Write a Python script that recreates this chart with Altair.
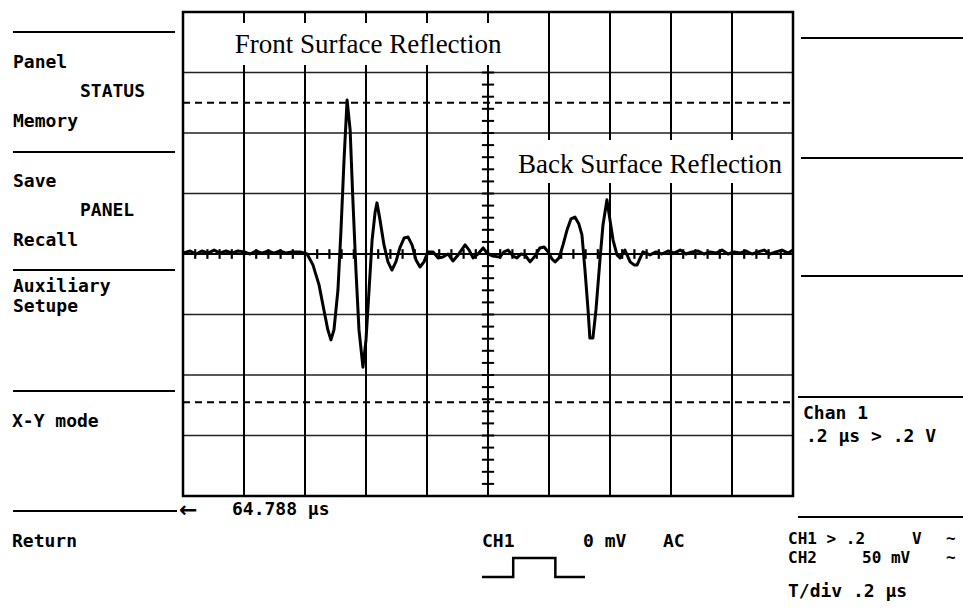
import altair as alt
import pandas as pd

# ---------------- data ----------------
# trace: time after 64.788 us (in us) and channel-1 voltage (V); 0.2 us/div, 0.2 V/div
TIME_US = [0, .023, .043, .062, .082, .102, .121, .141, .161, .180, .200, .220, .239, .259, .279,
           .298, .318, .338, .357, .384, .407,
           .426, .446, .462, .475, .485, .495, .508, .518, .528, .538, .548, .557, .567, .577, .590,
           .600, .610, .620, .630, .636, .646, .659, .672, .685, .698, .711, .725, .738, .751, .764,
           .777, .790, .803, .820, .836, .852, .869, .885, .902, .925, .938, .951, .967, .984, .997,
           1.016, 1.039, 1.052, 1.066, 1.082, 1.095, 1.108, 1.121, 1.138, 1.154, 1.170, 1.184, 1.197,
           1.210, 1.220, 1.233, 1.246, 1.259, 1.272, 1.285, 1.298, 1.308, 1.318, 1.328, 1.334, 1.344,
           1.354, 1.367, 1.377, 1.390, 1.400, 1.410, 1.423, 1.433, 1.449, 1.466, 1.479, 1.489, 1.508,
           1.531, 1.551, 1.570, 1.590, 1.610, 1.630, 1.649, 1.669, 1.689, 1.708, 1.728, 1.748, 1.767,
           1.787, 1.807, 1.826, 1.846, 1.866, 1.885, 1.905, 1.925, 1.944, 1.964, 1.984, 2.0]
VOLT_V = [.003, .010, 0, .010, .003, .013, .003, .010, .003, .010, .007, 0, .010, .003, .010,
          .003, .010, .003, .007, .007, 0,
          -.036, -.102, -.185, -.251, -.284, -.251, -.119, .079, .311, .509, .410, .179, -.053, -.251, -.374,
          -.284, -.119, .046, .139, .169, .112, .030, -.026, -.053, -.026, .020, .053, .056, .030, -.020,
          -.043, -.026, .007, .007, -.013, -.010, 0, -.023, -.003, .030, .013, -.013, 0, .020, .003,
          -.007, -.010, .007, .013, -.007, -.013, 0, -.003, -.026, -.007, .020, .023, .007,
          -.017, -.026, -.013, .030, .079, .116, .122, .099, .063, -.053, -.185, -.278, -.278,
          -.185, -.020, .096, .179, .112, .046, -.003, -.013, .013, -.026, -.036, -.036, .007,
          -.003, .007, 0, .010, .003, .013, 0, .007, .010, 0, .007, .003, .013,
          0, .007, .003, .010, 0, .007, .013, 0, .007, .013, .003, .013]

TIME_DOMAIN = [0, 2.0]      # 10 div x 0.2 us
VOLT_DOMAIN = [-0.8, 0.8]   # 8 div x 0.2 V
DIV_T = 0.2
DIV_V = 0.2
CURSOR_LEVELS = [0.5, -0.49]   # dashed marker levels (V)

LEFT_MENU = ["Panel", "STATUS", "Memory", "Save", "PANEL", "Recall",
             "Auxiliary", "Setupe", "X-Y mode", "Return"]
RIGHT_TEXT = ["Chan 1", ".2 \u00b5s > .2 V", "T/div .2 \u00b5s"]
STATUS_TEXT = ["CH1 > .2", "V", "~", "CH2", "50 mV", "~"]
BOTTOM_TEXT = ["64.788 \u00b5s", "CH1", "0 mV", "AC"]
ARROW = ["\u2190"]
ANNOTATIONS = ["Front Surface Reflection", "Back Surface Reflection"]
PULSE_T = [0, 1, 1, 2.35, 2.35, 3.3]
PULSE_L = [0, 0, 1, 1, 0, 0]

# ---------------- layout ----------------
XS = alt.Scale(domain=TIME_DOMAIN, range=[183, 793], nice=False, zero=False)
YS = alt.Scale(domain=VOLT_DOMAIN, range=[496, 12], nice=False, zero=False)
PX = alt.Scale(domain=[0, 963], range=[0, 963])
PY = alt.Scale(domain=[0, 616], range=[0, 616])


def X(f):
    return alt.X(f, scale=XS, axis=None)


def Y(f):
    return alt.Y(f, scale=YS, axis=None)


def PXc(f):
    return alt.X(f, scale=PX, axis=None)


def PYc(f):
    return alt.Y(f, scale=PY, axis=None)


n_t = int(round((TIME_DOMAIN[1] - TIME_DOMAIN[0]) / DIV_T))
n_v = int(round((VOLT_DOMAIN[1] - VOLT_DOMAIN[0]) / DIV_V))
vmid = (VOLT_DOMAIN[0] + VOLT_DOMAIN[1]) / 2
tmid = (TIME_DOMAIN[0] + TIME_DOMAIN[1]) / 2

vgrid = pd.DataFrame({"t": [TIME_DOMAIN[0] + k * DIV_T for k in range(1, n_t) if k != n_t // 2]})
vgrid["v0"], vgrid["v1"] = VOLT_DOMAIN
hgrid = pd.DataFrame({"v": [VOLT_DOMAIN[0] + k * DIV_V for k in range(1, n_v) if k != n_v // 2]})
hgrid["t0"], hgrid["t1"] = TIME_DOMAIN

g_v = alt.Chart(vgrid).mark_rule(color="black", strokeWidth=2).encode(x=X("t:Q"), y=Y("v0:Q"), y2="v1:Q")
g_h = alt.Chart(hgrid).mark_rule(color="#222", strokeWidth=1.4).encode(y=Y("v:Q"), x=X("t0:Q"), x2="t1:Q")

cur = pd.DataFrame({"v": CURSOR_LEVELS})
cur["t0"], cur["t1"] = TIME_DOMAIN
g_cur = alt.Chart(cur).mark_rule(color="black", strokeWidth=2, strokeDash=[7, 5]).encode(
    y=Y("v:Q"), x=X("t0:Q"), x2="t1:Q")

axes = pd.DataFrame({"t0": [tmid, TIME_DOMAIN[0]], "t1": [tmid, TIME_DOMAIN[1]],
                     "v0": [VOLT_DOMAIN[0], vmid], "v1": [VOLT_DOMAIN[1], vmid]})
g_axes = alt.Chart(axes).mark_rule(color="black", strokeWidth=2).encode(
    x=X("t0:Q"), x2="t1:Q", y=Y("v0:Q"), y2="v1:Q")

minor = 5
vt = pd.DataFrame({"v": [VOLT_DOMAIN[0] + k * DIV_V / minor for k in range(1, n_v * minor)]})
vt["t0"] = tmid - 0.02
vt["t1"] = tmid + 0.02
ht = pd.DataFrame({"t": [TIME_DOMAIN[0] + k * DIV_T / minor for k in range(1, n_t * minor)]})
ht["v0"] = vmid - 0.016
ht["v1"] = vmid + 0.016
g_vt = alt.Chart(vt).mark_rule(color="black", strokeWidth=2).encode(y=Y("v:Q"), x=X("t0:Q"), x2="t1:Q")
g_ht = alt.Chart(ht).mark_rule(color="black", strokeWidth=2.2).encode(x=X("t:Q"), y=Y("v0:Q"), y2="v1:Q")

frame = pd.DataFrame({"t0": [TIME_DOMAIN[0]], "t1": [TIME_DOMAIN[1]],
                      "v0": [VOLT_DOMAIN[0]], "v1": [VOLT_DOMAIN[1]]})
g_frame = alt.Chart(frame).mark_rect(fillOpacity=0, stroke="black", strokeWidth=2.5).encode(
    x=X("t0:Q"), x2="t1:Q", y=Y("v0:Q"), y2="v1:Q")

boxes = pd.DataFrame({"t0": [0.138, 1.072], "t1": [1.056, 1.990],
                      "v0": [0.625, 0.235], "v1": [0.764, 0.377]})
g_boxes = alt.Chart(boxes).mark_rect(fill="white", stroke=None).encode(
    x=X("t0:Q"), x2="t1:Q", y=Y("v0:Q"), y2="v1:Q")

ann = pd.DataFrame({"label": ANNOTATIONS, "t": [0.607, 1.531], "v": [0.664, 0.268]})
g_ann = alt.Chart(ann).mark_text(font="Liberation Serif", fontSize=27, align="center",
                                 baseline="alphabetic", color="black").encode(
    x=X("t:Q"), y=Y("v:Q"), text="label:N")

trace = pd.DataFrame({"t": TIME_US, "v": VOLT_V, "i": range(len(TIME_US))})
g_trace = alt.Chart(trace).mark_line(color="black", strokeWidth=3, strokeJoin="round").encode(
    x=X("t:Q"), y=Y("v:Q"), order="i:Q")

# ---------------- screen chrome (menu lines and labels, pixel positions) ----------------
menu_lines = pd.DataFrame({
    "x1": [13, 13, 13, 13, 13, 801, 801, 801, 798, 798],
    "x2": [175, 175, 175, 175, 177, 963, 963, 963, 963, 963],
    "y": [32, 152, 270, 391, 511, 38, 158, 276, 397, 517]})
g_menu = alt.Chart(menu_lines).mark_rule(color="black", strokeWidth=2).encode(
    x=PXc("x1:Q"), x2="x2:Q", y=PYc("y:Q"))

labels = pd.DataFrame({
    "txt": LEFT_MENU + RIGHT_TEXT + BOTTOM_TEXT,
    "x": [13, 80, 13, 13, 80, 13, 13, 13, 12, 12,
          803, 806, 788,
          232, 482, 583, 663],
    "y": [63, 92, 122, 182, 211, 241, 287, 307, 422, 542,
          414, 437, 592,
          510, 542, 542, 542]})
g_labels = alt.Chart(labels).mark_text(font="DejaVu Sans Mono", fontWeight="bold", fontSize=18,
                                       align="left", baseline="middle", color="black").encode(
    x=PXc("x:Q"), y=PYc("y:Q"), text="txt:N")

status = pd.DataFrame({"txt": STATUS_TEXT,
                       "x": [788, 912, 946, 788, 862, 946],
                       "y": [539, 539, 539, 558, 558, 558]})
g_status = alt.Chart(status).mark_text(font="DejaVu Sans Mono", fontWeight="bold", fontSize=16,
                                       align="left", baseline="middle", color="black").encode(
    x=PXc("x:Q"), y=PYc("y:Q"), text="txt:N")

arrow = pd.DataFrame({"txt": ARROW, "x": [179], "y": [510]})
g_arrow = alt.Chart(arrow).mark_text(font="DejaVu Sans", fontWeight="bold", fontSize=22,
                                     align="left", baseline="middle", color="black").encode(
    x=PXc("x:Q"), y=PYc("y:Q"), text="txt:N")

pulse = pd.DataFrame({"t": PULSE_T, "l": PULSE_L, "i": range(len(PULSE_T))})
g_pulse = alt.Chart(pulse).mark_line(color="black", strokeWidth=2.5).encode(
    x=alt.X("t:Q", scale=alt.Scale(domain=[0, 3.3], range=[482, 585], nice=False, zero=False), axis=None),
    y=alt.Y("l:Q", scale=alt.Scale(domain=[0, 1], range=[577, 558], nice=False, zero=False), axis=None),
    order="i:Q")

chart = alt.layer(
    g_h, g_v, g_cur, g_axes, g_vt, g_ht, g_frame, g_boxes, g_ann, g_trace,
    g_menu, g_labels, g_status, g_arrow, g_pulse
).resolve_scale(x="independent", y="independent").properties(
    width=963, height=616, padding=0, autosize="none", background="white"
).configure_view(stroke=None)

chart.save("out.html", embed_options={"renderer": "svg", "actions": False})
